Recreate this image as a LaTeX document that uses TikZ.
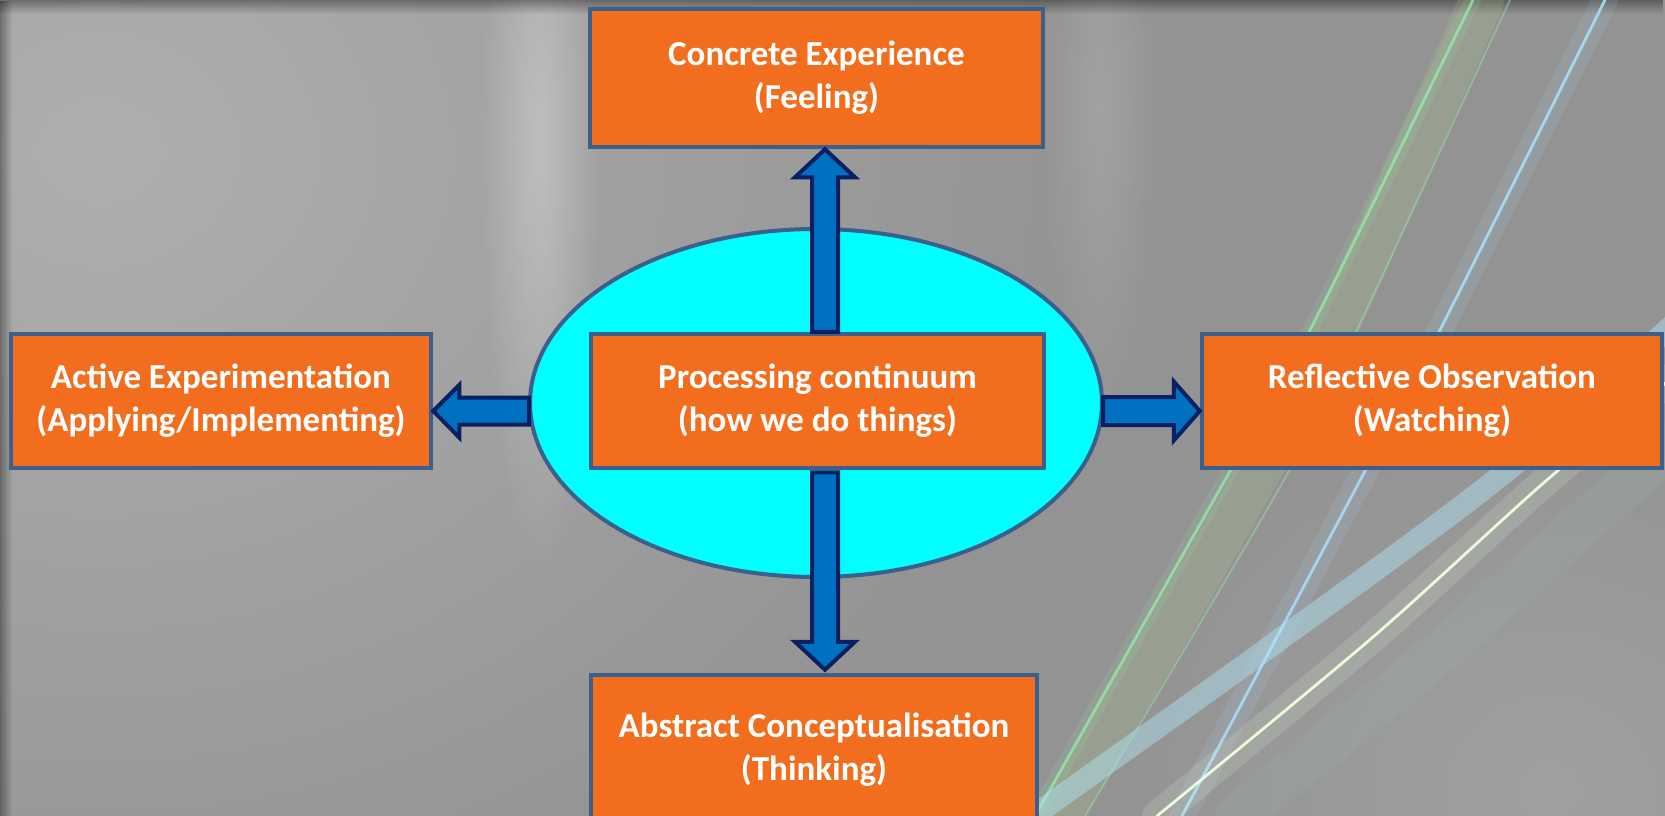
\documentclass[tikz,border=0pt]{standalone}
\usepackage{fontspec}
\setmainfont{Carlito}
\usetikzlibrary{shapes.geometric,calc,fadings}
\definecolor{boxorange}{HTML}{F26E1E}
\definecolor{boxborder}{HTML}{3D5F8C}
\definecolor{ellcyan}{HTML}{00FFFF}
\definecolor{arrfill}{HTML}{0070C0}
\definecolor{arrline}{HTML}{0A2060}
\definecolor{bggray}{HTML}{939393}
\definecolor{greenlight}{HTML}{96E8A8}
\definecolor{yellowlight}{HTML}{C8F080}
\definecolor{bluelight}{HTML}{A8DCFA}
\definecolor{cyanband}{HTML}{B0E8F8}
\definecolor{whitegreen}{HTML}{F0FFE0}
\tikzfading[name=fadedown, top color=transparent!0, bottom color=transparent!100]
\tikzfading[name=fadeleft, left color=transparent!0, right color=transparent!100]
\tikzfading[name=glowfade, inner color=transparent!0, outer color=transparent!100]
\begin{document}
\begin{tikzpicture}[x=1pt,y=-1pt,
  box/.style={rectangle, draw=boxborder, line width=4.5pt, fill=boxorange, text=white,
    font=\fontsize{35}{43}\selectfont\bfseries, align=center, inner sep=0pt},
  blockarrow/.style={draw=arrline, fill=arrfill, line width=4pt, line join=miter},
  lightglow/.style={line width=16pt, opacity=0.15, line cap=round},
  lightline/.style={line width=2.8pt, opacity=0.8, line cap=round}]
\useasboundingbox (0,0) rectangle (1665,816);
\clip (0,0) rectangle (1665,816);
% background
\fill[bggray] (0,0) rectangle (1665,816);
\fill[white, opacity=0.26, path fading=glowfade] (-900,-700) rectangle (1100,1000);
\fill[white, opacity=0.30, path fading=glowfade] (480,-300) rectangle (600,580);
\fill[white, opacity=0.14, path fading=glowfade] (1040,-220) rectangle (1160,440);
\fill[white, opacity=0.12, path fading=glowfade] (1100,380) rectangle (2000,1200);
\fill[black, opacity=0.35, path fading=fadedown] (0,0) rectangle (1665,14);
\fill[black, opacity=0.35, path fading=fadeleft] (0,0) rectangle (12,816);
% light streaks
\draw[lightglow, yellowlight, line width=44pt, opacity=0.13] plot[smooth] coordinates {(1482,0) (1335,330) (1258,473) (1060,816)};
\draw[lightglow, greenlight] plot[smooth] coordinates {(1473,0) (1310,330) (1229,473) (1035,816)};
\draw[lightline, greenlight] plot[smooth] coordinates {(1473,0) (1310,330) (1229,473) (1035,816)};
\draw[lightline, greenlight, line width=1.8pt, opacity=0.45] plot[smooth] coordinates {(1510,0) (1357,330) (1288,473) (1085,816)};
\draw[lightglow, bluelight, line width=26pt, opacity=0.12] plot[smooth] coordinates {(1605,0) (1440,330) (1364,473) (1182,816)};
\draw[lightline, bluelight, opacity=0.9] plot[smooth] coordinates {(1605,0) (1440,330) (1364,473) (1182,816)};
\draw[lightglow, cyanband, line width=22pt, opacity=0.45] plot[smooth] coordinates {(1700,300) (1504,473) (1275,643) (1042,810) (1020,830)};
\draw[lightglow, whitegreen, line width=30pt, opacity=0.15] plot[smooth] coordinates {(1720,340) (1555,473) (1373,637) (1157,816)};
\draw[lightline, whitegreen, opacity=0.95] plot[smooth] coordinates {(1720,340) (1555,473) (1373,637) (1157,816)};
\draw[lightglow, greenlight, line width=44pt, opacity=0.08] plot[smooth] coordinates {(1760,370) (1620,490) (1430,660) (1237,816)};
% shapes
\node[ellipse, draw=boxborder, line width=4pt, fill=ellcyan, minimum width=572pt, minimum height=348pt, inner sep=0pt] (el) at (816,403) {};
\node[box, minimum width=453pt, minimum height=138pt] (ce) at (816.5,78) {Concrete Experience\\(Feeling)};
\node[box, minimum width=420pt, minimum height=134pt] (ae) at (221,401) {Active Experimentation\\(Applying/Implementing)};
\node[box, minimum width=453pt, minimum height=134pt] (pc) at (817.5,401) {Processing continuum\\(how we do things)};
\node[box, minimum width=460pt, minimum height=134pt] (ro) at (1432,401) {Reflective Observation\\(Watching)};
\node[box, minimum width=446pt, minimum height=150pt] (ac) at (814,750) {Abstract Conceptualisation\\(Thinking)};
% arrows
\coordinate (upbase) at ($(pc.north)+(7.5,0)$);
\coordinate (uptip) at ($(ce.south)+(8.5,0)$);
\draw[blockarrow] (uptip) -- ++(30,28) -- ++(-17,0) -- ($(upbase)+(13,0)$) -- ($(upbase)+(-13,0)$) -- ($(uptip)+(-13,28)$) -- ++(-17,0) -- cycle;
\coordinate (downbase) at ($(pc.south)+(7.5,2)$);
\coordinate (downtip) at ($(ac.north)+(11,-3)$);
\draw[blockarrow] (downtip) -- ++(30,-28) -- ++(-17,0) -- ($(downbase)+(13,0)$) -- ($(downbase)+(-13,0)$) -- ($(downtip)+(-13,-28)$) -- ++(-17,0) -- cycle;
\coordinate (lefttip) at ($(ae.east)+(0,10)$);
\coordinate (leftbase) at ($(el.west)+(1,8)$);
\draw[blockarrow] (lefttip) -- ++(26,-26) -- ++(0,12.5) -- ($(leftbase)+(0,-13.5)$) -- ($(leftbase)+(0,13.5)$) -- ($(lefttip)+(26,13.5)$) -- ++(0,13) -- cycle;
\coordinate (righttip) at ($(ro.west)+(0,10)$);
\coordinate (rightbase) at ($(el.east)+(-1,8)$);
\draw[blockarrow] (righttip) -- ++(-26,-29.5) -- ++(0,15.5) -- ($(rightbase)+(0,-14)$) -- ($(rightbase)+(0,14)$) -- ($(righttip)+(-26,14)$) -- ++(0,15.5) -- cycle;
\end{tikzpicture}
\end{document}
